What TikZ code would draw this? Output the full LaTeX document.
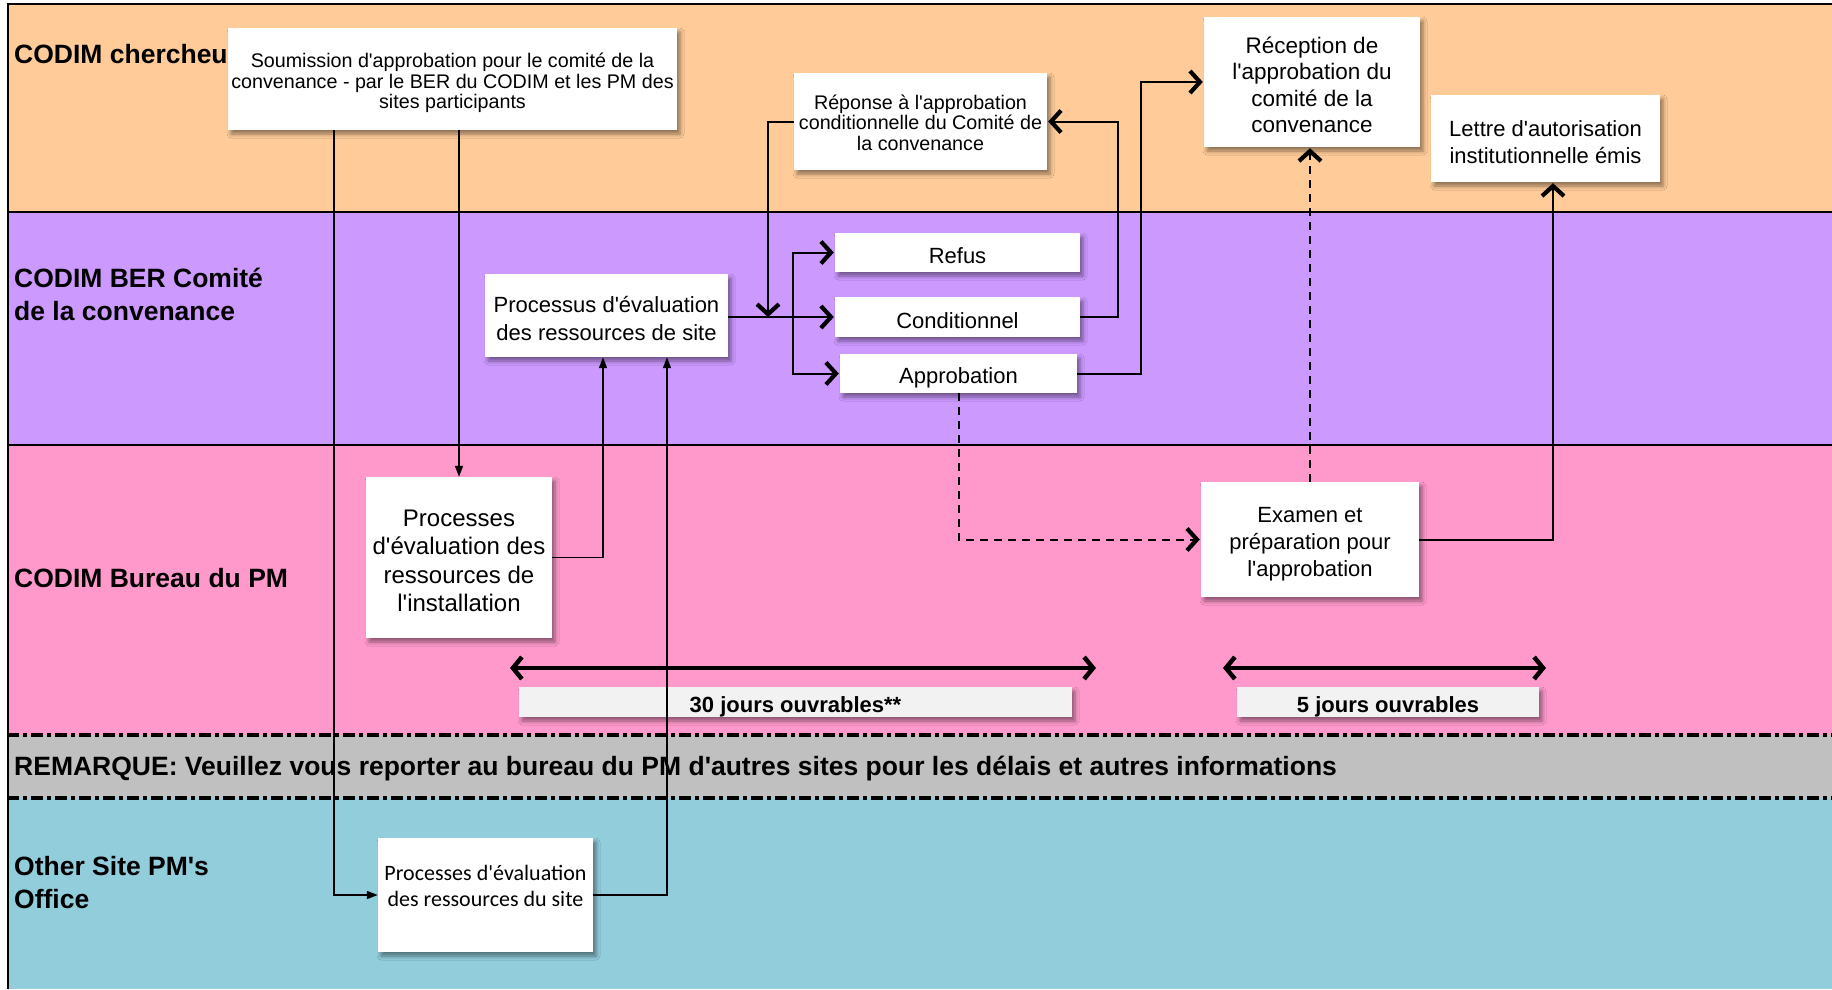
\documentclass[tikz,border=0pt]{standalone}
\usepackage{fontspec}
\newfontfamily\lib{Liberation Sans}
\newfontfamily\carl{Carlito}
\usetikzlibrary{arrows.meta,shadows.blur}
\definecolor{laneorange}{RGB}{255,204,153}
\definecolor{lanepurple}{RGB}{204,153,255}
\definecolor{lanepink}{RGB}{255,153,204}
\definecolor{lanegrey}{RGB}{192,192,192}
\definecolor{laneblue}{RGB}{146,205,220}
\definecolor{durfill}{RGB}{242,242,242}
\newcommand{\myfs}[2]{\fontsize{#1}{#2}\selectfont}
\begin{document}
\begin{tikzpicture}[x=1pt,y=-1pt,
  box/.style={fill=white, inner sep=0pt,
    blur shadow={shadow xshift=3pt, shadow yshift=-4pt, shadow blur radius=4pt, shadow opacity=45}},
  txt/.style={inner sep=0pt, align=center},
  lab/.style={font=\lib\myfs{26.5}{32.5}\bfseries, anchor=base west, align=left, inner sep=0pt},
  conn/.style={line width=2pt, shorten >=1pt, -{Straight Barb[length=10pt,width=22pt,line width=4.2pt]}},
  tri/.style={line width=1.6pt, -{Triangle[length=11pt,width=8pt]}},
  dconn/.style={conn, dash pattern=on 8pt off 6pt},
  span/.style={line width=4.5pt, {Straight Barb[length=9pt,width=22pt,line width=4.5pt]}-{Straight Barb[length=9pt,width=22pt,line width=4.5pt]}},
  sep/.style={line width=2pt},
  dsep/.style={line width=4.5pt, dash pattern=on 12pt off 4pt on 4pt off 4pt}
]
\useasboundingbox (0,0) rectangle (1832,989);
\fill[white] (0,0) rectangle (1832,989);
% lanes
\fill[laneorange] (7,4) rectangle (1832,212);
\fill[lanepurple] (7,212) rectangle (1832,445);
\fill[lanepink] (7,445) rectangle (1832,735);
\fill[lanegrey] (7,735) rectangle (1832,798);
\fill[laneblue] (7,798) rectangle (1832,989);
\draw[sep] (7,4) -- (1832,4);
\draw[sep] (8,4) -- (8,989);
\draw[sep] (7,212) -- (1832,212);
\draw[sep] (7,445) -- (1832,445);
\draw[dsep] (7,735) -- (1832,735);
\draw[dsep] (7,798) -- (1832,798);
% lane labels
\node[lab] (l1) at (14,63) {CODIM chercheu};
\node[lab] (l2) at (14,320) {CODIM BER Comité\\de la convenance};
\node[lab] (l3) at (14,587) {CODIM Bureau du PM};
\node[lab] (l4) at (14,775) {REMARQUE: Veuillez vous reporter au bureau du PM d'autres sites pour les délais et autres informations};
\node[lab] (l5) at (14,908) {Other Site PM's\\Office};
% boxes
\node[box, minimum width=449pt, minimum height=102pt] (soum) at (452.5,79) {};
\node[txt, font=\lib\myfs{19.7}{20.5}] (soumt) at (452.5,83)
  {Soumission d'approbation pour le comité de la\\convenance - par le BER du CODIM et les PM des\\sites participants};
\node[box, minimum width=253pt, minimum height=97pt] (repo) at (920.5,121.5) {};
\node[txt, font=\lib\myfs{19.7}{20.5}] (repot) at (920.5,122.5)
  {Réponse à l'approbation\\conditionnelle du Comité de\\la convenance};
\node[box, minimum width=216pt, minimum height=130pt] (recep) at (1312,82) {};
\node[txt, font=\lib\myfs{22.5}{26.5}] (recept) at (1312,85)
  {Réception de\\l'approbation du\\comité de la\\convenance};
\node[box, minimum width=229pt, minimum height=87pt] (lettre) at (1545.5,138.5) {};
\node[txt, font=\lib\myfs{22}{26.5}] (lettret) at (1545.5,142)
  {Lettre d'autorisation\\institutionnelle émis};
\node[box, minimum width=245pt, minimum height=39pt] (refus) at (957.5,252.5) {};
\node[txt, font=\lib\myfs{22}{26}] (refust) at (957.5,256) {Refus};
\node[box, minimum width=245pt, minimum height=40pt] (cond) at (957.5,317) {};
\node[txt, font=\lib\myfs{22}{26}] (condt) at (957.5,320.5) {Conditionnel};
\node[box, minimum width=237pt, minimum height=39pt] (appro) at (958.5,373.5) {};
\node[txt, font=\lib\myfs{22}{26}] (approt) at (958.5,378) {Approbation};
\node[box, minimum width=243pt, minimum height=83pt] (procsite) at (606.5,315.5) {};
\node[txt, font=\lib\myfs{22}{28}] (procsitet) at (606.5,318)
  {Processus d'évaluation\\des ressources de site};
\node[box, minimum width=186pt, minimum height=161pt] (procinst) at (459,557.5) {};
\node[txt, font=\lib\myfs{24}{28.5}] (procinstt) at (459,561)
  {Processes\\d'évaluation des\\ressources de\\l'installation};
\node[box, minimum width=218pt, minimum height=115pt] (examen) at (1310,539.5) {};
\node[txt, font=\lib\myfs{22}{26.8}] (exament) at (1310,544)
  {Examen et\\préparation pour\\l'approbation};
\node[box, fill=durfill, minimum width=553pt, minimum height=30pt] (j30) at (795.5,702) {};
\node[txt, font=\lib\myfs{22}{26}\bfseries] (j30t) at (795.5,707) {30 jours ouvrables**};
\node[box, fill=durfill, minimum width=302pt, minimum height=30pt] (j5) at (1388,702) {};
\node[txt, font=\lib\myfs{22}{26}\bfseries] (j5t) at (1388,707) {5 jours ouvrables};
\node[box, minimum width=215pt, minimum height=114pt] (other) at (485.5,895) {};
\node[txt, font=\carl\myfs{22}{26}] (othert) at (485.5,886)
  {Processes d'évaluation\\des ressources du site};
% duration arrows
\coordinate (s30a) at (510,668);
\coordinate (s30b) at (1096,668);
\coordinate (s5a) at (1223,668);
\coordinate (s5b) at (1546,668);
\draw[span] (s30a) -- (s30b);
\draw[span] (s5a) -- (s5b);
% connectors
\coordinate (xa) at (334,0);
\coordinate (xc) at (603,0);
\coordinate (xd) at (667,0);
\coordinate (xf) at (768,0);
\coordinate (br) at (793,317);
\coordinate (xg) at (1118,0);
\coordinate (xh) at (1141,0);
\coordinate (xk) at (1553,0);
\draw[tri] (soum.south -| xa) |- (other.west);
\draw[tri] (soum.south -| procinst.north) -- (procinst.north);
\draw[tri] (procinst.east) -| (procsite.south -| xc);
\draw[tri] (other.east) -| (procsite.south -| xd);
\draw[conn] (procsite.east |- cond.west) -- (cond.west);
\draw[conn] (br) |- (refus.west);
\draw[conn] (br) |- (appro.west);
\draw[conn, shorten >=0pt] (repo.west) -| (xf |- cond.west);
\draw[conn] (cond.east) -| (repo.east -| xg) -- (repo.east);
\draw[conn] (appro.east) -| (recep.west -| xh) -- (recep.west);
\draw[dconn] (appro.south) |- (examen.west);
\draw[dconn] (examen.north) -- (examen.north |- recep.south);
\draw[conn] (examen.east) -| (lettre.south -| xk);
\end{tikzpicture}
\end{document}
